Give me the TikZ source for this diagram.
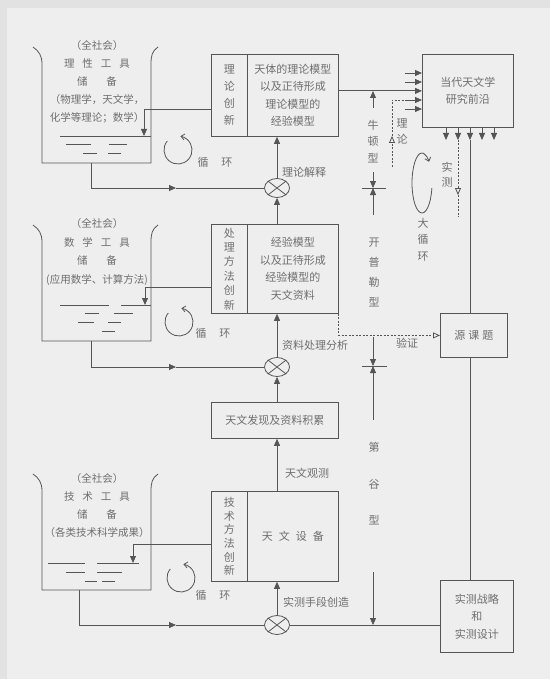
\documentclass[tikz,border=0pt]{standalone}
\usepackage{fontspec}
\newfontfamily\cjk{Noto Sans CJK SC}
\usetikzlibrary{arrows.meta,shapes.geometric}
\definecolor{linec}{HTML}{555555}
\definecolor{textc}{HTML}{6E6E6E}
\definecolor{panel}{HTML}{EEEEEE}
\definecolor{outerc}{HTML}{E2E2E2}
\newcommand{\fs}[2]{\cjk\fontsize{#1}{#2}\selectfont}
\begin{document}
\begin{tikzpicture}[x=1pt,y=-1pt,
  ln/.style={draw=linec, line width=0.8pt},
  arr/.style={ln, -{Triangle[length=7pt,width=6pt]}},
  oarr/.style={ln, -{Triangle[open,length=7pt,width=6pt]}},
  dsh/.style={ln, dash pattern=on 2pt off 1.5pt},
  ringarr/.style={ln, -{Straight Barb[length=3.5pt,width=6pt]}},
  txt/.style={text=textc, inner sep=0pt, align=center, font=\fs{11}{17}},
  box/.style={draw=linec, line width=0.8pt, text=textc, inner sep=0pt, align=center, anchor=north west, font=\fs{11}{17}},
  xnode/.style={ellipse, draw=linec, line width=0.8pt, minimum width=25pt, minimum height=19pt, inner sep=0pt},
]
\useasboundingbox (0,0) rectangle (550,679);
\fill[outerc] (0,0) rectangle (550,679);
\fill[panel] (7,8) rectangle (550,679);

% ---------- beakers ----------
\foreach \dy in {0,178,427}{
  \begin{scope}[shift={(0,\dy)}]
    \draw[ln] (33,47) .. controls (39,51) and (42,56) .. (42,64) -- (42,163) -- (151,163) -- (151,64) .. controls (151,56) and (152,51) .. (158,47);
  \end{scope}
}
% water lines beaker 1
\draw[ln] (60,136) -- (151,136);
\draw[ln] (66,144) -- (91,144) (109,144) -- (127,144);
\draw[ln] (83,153) -- (97,153) (108,153) -- (121,153);
% water lines beaker 2
\draw[ln] (60,305) -- (109,305) (121,305) -- (151,305);
\draw[ln] (85,313) -- (99,313) (114,313) -- (133,313);
\draw[ln] (78,322) -- (94,322) (108,322) -- (121,322);
\draw[ln] (102,331) -- (115,331);
% water lines beaker 3
\draw[ln] (48,563) -- (85,563) (97,563) -- (139,563);
\draw[ln] (66,572) -- (85,572) (97,572) -- (122,572);
\draw[ln] (85,581) -- (97,581) (102,581) -- (115,581);

% beaker texts
\node[txt, font=\fs{10.5}{18}] (t1) at (97,81.5) {（全社会）\\理\hspace{8pt}性\hspace{8pt}工\hspace{8pt}具\\储\hspace{19pt}备\\（物理学，天文学，\\化学等理论；数学）};
\node[txt, font=\fs{10.5}{18.7}] (t2) at (97,252) {（全社会）\\数\hspace{8pt}学\hspace{8pt}工\hspace{8pt}具\\储\hspace{19pt}备\\(应用数学、计算方法)};
\node[txt, font=\fs{10.5}{17.7}] (t3) at (97,505.5) {（全社会）\\技\hspace{8pt}术\hspace{8pt}工\hspace{8pt}具\\储\hspace{19pt}备\\（各类技术科学成果）};

% ---------- boxes ----------
\node[box, minimum width=36pt, minimum height=82pt] (A1) at (211,54) {理\\论\\创\\新};
\node[box, minimum width=91pt, minimum height=82pt, font=\fs{11}{17.3}] (B1) at (247,54) {天体的理论模型\\以及正待形成\\理论模型的\\经验模型};
\node[box, minimum width=36pt, minimum height=89pt, font=\fs{11}{14.4}] (A2) at (211,224) {处\\理\\方\\法\\创\\新};
\node[box, minimum width=91pt, minimum height=89pt, font=\fs{11}{17.7}] (B2) at (247,224) {经验模型\\以及正待形成\\经验模型的\\天文资料};
\node[box, minimum width=127pt, minimum height=36pt] (D) at (211,402) {天文发现及资料积累};
\node[box, minimum width=36pt, minimum height=90pt, font=\fs{11}{13.6}] (A3) at (211,491) {技\\术\\方\\法\\创\\新};
\node[box, minimum width=91pt, minimum height=90pt] (B3) at (247,491) {天\hspace{6pt}文\hspace{6pt}设\hspace{6pt}备};
\node[box, minimum width=91pt, minimum height=73pt] (F) at (422,54) {当代天文学\\研究前沿};
\node[box, minimum width=67pt, minimum height=44pt] (G) at (440,313) {源\hspace{3pt}课\hspace{3pt}题};
\node[box, minimum width=73pt, minimum height=72pt, font=\fs{11}{17.5}] (H) at (440,580) {实测战略\\和\\实测设计};

% ---------- multiplier nodes ----------
\node[xnode] (X1) at (277,188) {};
\node[xnode] (X2) at (277,367) {};
\node[xnode] (X3) at (277,625) {};
\foreach \n in {X1,X2,X3}{
  \draw[ln] (\n.north west) -- (\n.south east) (\n.north east) -- (\n.south west);
}

% ---------- beaker outlets ----------
\coordinate (o1) at (91,163);
\coordinate (o2) at (91,341);
\coordinate (o3) at (79,590);
\coordinate (m1) at (176,188);
\coordinate (m2) at (176,367);
\coordinate (m3) at (176,625);
\draw[arr] (o1) |- (m1);  \draw[ln] (m1) -- (X1.west);
\draw[arr] (o2) |- (m2);  \draw[ln] (m2) -- (X2.west);
\draw[arr] (o3) |- (m3);  \draw[ln] (m3) -- (X3.west);

% feedback from innovation boxes to reservoirs
\draw[arr] (A1.west |- 0,109) -| (144,136);
\draw[arr] (A2.west |- 0,287) -| (145,305);
\draw[arr] (A3.west |- 0,544) -| (133,563);

% cycle rings
\coordinate (c1) at (178,150);
\coordinate (c2) at (179,322);
\coordinate (c3) at (181,578);
\foreach \c in {c1,c2,c3}{
  \draw[ringarr] ([shift={(140:14pt)}]\c) arc[start angle=140, end angle=440, radius=14pt];
}
\node[txt] (r1) at (215,162) {循\hspace{13pt}环};
\node[txt] (r2) at (213,333) {循\hspace{13pt}环};
\node[txt] (r3) at (213,595) {循\hspace{13pt}环};

% ---------- main vertical chain ----------
\draw[arr] (X1.north) -- (X1.north |- B1.south);
\draw[arr] (X1.south |- B2.north) -- (X1.south);
\draw[arr] (X2.north) -- (X2.north |- B2.south);
\draw[arr] (X2.south |- D.north) -- (X2.south);
\draw[arr] (X3.north |- B3.north) -- (X3.north |- D.south);
\draw[arr] (X3.north) -- (X3.north |- B3.south);

\node[txt, anchor=west] (l1) at (282,172) {理论解释};
\node[txt, anchor=west] (l2) at (282,345) {资料处理分析};
\node[txt, anchor=west] (l3) at (285,473) {天文观测};
\node[txt, anchor=west] (l4) at (283,602) {实测手段创造};

% ---------- to frontier box ----------
\draw[arr] (B1.east |- F.west) -- (F.west);
\foreach \yy in {73,82,100,109}{
  \draw[arr] (405,\yy) -- (F.west |- 0,\yy);
}
\draw[dsh, oarr] (392,167) -- (392,136);
\draw[dsh] (392,136) -- (392,100) -- (405,100);
\node[txt, font=\fs{11}{16}] (lt) at (402,131) {理\\论};

% outputs of frontier box
\foreach \xx in {446,458,470,482,494}{
  \draw[arr] (F.south -| \xx,0) -- (\xx,140);
}
\draw[dsh, oarr] (458,140) -- (458,195);
\draw[dsh] (458,195) -- (458,217);
\node[txt, font=\fs{11}{15}] (ls) at (447,174.5) {实\\测};
\draw[ln] (470,140) -- (G.north -| 470,0);
\draw[ln] (G.south -| 470,0) -- (H.north -| 470,0);

% big cycle
\coordinate (c4) at (422,183);
\draw[ringarr] ([shift={(-10:10pt and 30pt)}]c4) arc[start angle=-10, end angle=-315, x radius=10pt, y radius=30pt];
\node[txt, font=\fs{11}{16.5}] (lb) at (423,239.5) {大\\循\\环};

% verification
\draw[dsh, oarr] (B2.south east) |- (G.west);
\node[txt] (lv) at (407,343) {验证};

% bottom line
\draw[ln] (X3.east) -- (X3.east -| H.west);

% ---------- model types axis ----------
\draw[arr] (373,108) -- (373,91);
\node[txt, font=\fs{11}{16.5}] (n1) at (373,141.5) {牛\\顿\\型};
\draw[arr] (373,172) -- (373,188);
\draw[arr] (373,215) -- (373,188);
\draw[ln] (362,188) -- (386,188);
\node[txt, font=\fs{11}{19.7}] (n2) at (374,272.5) {开\\普\\勒\\型};
\draw[arr] (373,337) -- (373,366);
\draw[arr] (373,420) -- (373,366);
\draw[ln] (362,366) -- (387,366);
\node[txt, font=\fs{11}{36.5}] (n3) at (374,484) {第\\谷\\型};
\draw[arr] (373,572) -- (373,625);
\end{tikzpicture}
\end{document}
